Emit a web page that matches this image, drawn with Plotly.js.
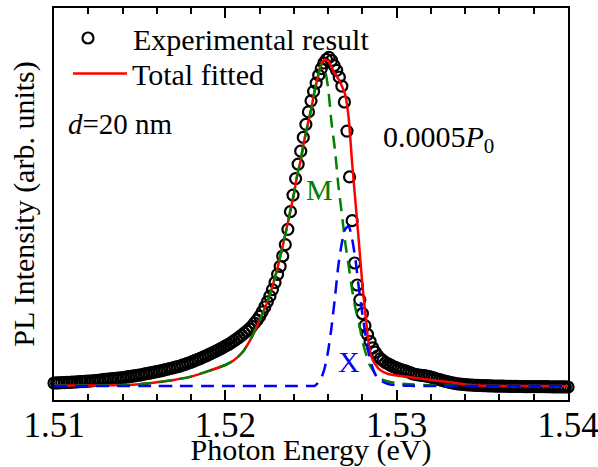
<!DOCTYPE html>
<html><head><meta charset="utf-8">
<script src="https://cdn.plot.ly/plotly-3.0.1.min.js"></script>
<style>html,body{margin:0;padding:0;background:#fff;}#chart{width:598px;height:467px;}</style>
</head><body><div id="chart"></div>
<script>
// Experimental PL spectrum, sampled on a uniform energy grid
const energyStart = 1.51;
const energyStep = 0.00015;
const experimental = [
 0.0091, 0.0095, 0.0098, 0.0101, 0.0104, 0.0108, 0.0113, 0.0116, 0.0122, 0.0125,
 0.0131, 0.0136, 0.0142, 0.0146, 0.0152, 0.0160, 0.0168, 0.0175, 0.0183, 0.0192,
 0.0200, 0.0207, 0.0215, 0.0223, 0.0230, 0.0238, 0.0247, 0.0259, 0.0271, 0.0284,
 0.0294, 0.0306, 0.0317, 0.0329, 0.0343, 0.0360, 0.0375, 0.0390, 0.0405, 0.0421,
 0.0438, 0.0453, 0.0471, 0.0491, 0.0511, 0.0530, 0.0549, 0.0569, 0.0588, 0.0608,
 0.0636, 0.0662, 0.0689, 0.0716, 0.0748, 0.0780, 0.0811, 0.0843, 0.0878, 0.0915,
 0.0948, 0.0985, 0.1024, 0.1064, 0.1102, 0.1143, 0.1186, 0.1229, 0.1271, 0.1320,
 0.1375, 0.1430, 0.1485, 0.1546, 0.1610, 0.1674, 0.1741, 0.1820, 0.1915, 0.2006,
 0.2122, 0.2262, 0.2409, 0.2567, 0.2738, 0.2939, 0.3155, 0.3405, 0.3649, 0.3963,
 0.4311, 0.4777, 0.5314, 0.5820, 0.6323, 0.6765, 0.7159, 0.7579, 0.7976, 0.8357,
 0.8695, 0.8982, 0.9235, 0.9476, 0.9677, 0.9848, 0.9960, 1.0021, 0.9924, 0.9768,
 0.9622, 0.9415, 0.9143, 0.8659, 0.7771, 0.6375, 0.5040, 0.3750, 0.3079, 0.2628,
 0.2210, 0.1841, 0.1570, 0.1357, 0.1165, 0.1030, 0.0915, 0.0835, 0.0774, 0.0713,
 0.0674, 0.0634, 0.0595, 0.0558, 0.0527, 0.0497, 0.0476, 0.0451, 0.0427, 0.0393,
 0.0366, 0.0351, 0.0335, 0.0326, 0.0317, 0.0302, 0.0284, 0.0262, 0.0238, 0.0213,
 0.0192, 0.0171, 0.0149, 0.0131, 0.0113, 0.0095, 0.0079, 0.0067, 0.0058, 0.0049,
 0.0041, 0.0035, 0.0030, 0.0026, 0.0021, 0.0018, 0.0015, 0.0012, 0.0009, 0.0006,
 0.0003, 0.0000, -0.0002, -0.0004, -0.0005, -0.0006, -0.0008, -0.0009, -0.0010, -0.0012,
 -0.0013, -0.0015, -0.0015, -0.0016, -0.0017, -0.0017, -0.0018, -0.0019, -0.0019, -0.0020,
 -0.0021, -0.0021, -0.0022, -0.0023, -0.0024, -0.0025, -0.0026, -0.0027, -0.0028, -0.0029, -0.0030
];

// Fitted curves
const fitEnergy = [
 1.510, 1.511, 1.512, 1.513, 1.514, 1.515, 1.516, 1.517, 1.518, 1.519,
 1.520, 1.5205, 1.521, 1.5215, 1.522, 1.5225, 1.523, 1.5235, 1.524, 1.5242,
 1.5244, 1.5246, 1.5248, 1.525, 1.5252, 1.5254, 1.5256, 1.5258, 1.526, 1.5262,
 1.5264, 1.5266, 1.5268, 1.527, 1.5272, 1.5274, 1.5276, 1.5278, 1.528, 1.5282,
 1.5284, 1.5286, 1.5288, 1.529, 1.5295, 1.530, 1.5305, 1.531, 1.532, 1.533,
 1.534, 1.535, 1.536, 1.538, 1.540
];
const totalFit = [
 0.0009, 0.0012, 0.0015, 0.0018, 0.0027, 0.0055, 0.0113, 0.0186, 0.0287, 0.0454,
 0.0640, 0.0784, 0.1027, 0.1445, 0.1997, 0.2631, 0.3506, 0.4622, 0.5854, 0.6433,
 0.6890, 0.7470, 0.7957, 0.8415, 0.8963, 0.9421, 0.9817, 0.9954, 0.9909, 0.9726,
 0.9512, 0.9360, 0.9146, 0.8872, 0.8171, 0.6799, 0.5579, 0.4360, 0.3079, 0.2073,
 0.1159, 0.0793, 0.0625, 0.0503, 0.0366, 0.0320, 0.0290, 0.0253, 0.0183, 0.0122,
 0.0046, 0.0009, 0.0000, 0.0000, -0.0006
];
const componentM = [
 0.0009, 0.0012, 0.0015, 0.0018, 0.0027, 0.0055, 0.0113, 0.0186, 0.0287, 0.0454,
 0.0640, 0.0784, 0.1027, 0.1445, 0.1997, 0.2631, 0.3506, 0.4622, 0.5854, 0.6433,
 0.6890, 0.7470, 0.7957, 0.8415, 0.8963, 0.9421, 0.9780, 0.9660, 0.9085, 0.8018,
 0.7195, 0.6098, 0.5244, 0.4360, 0.3659, 0.2927, 0.2348, 0.1921, 0.1372, 0.0991,
 0.0671, 0.0488, 0.0320, 0.0229, 0.0137, 0.0085, 0.0061, 0.0043, 0.0021, 0.0012,
 0.0006, 0.0003, 0.0000, 0.0000, 0.0000
];
const componentX = [
 0, 0, 0, 0, 0, 0, 0, 0, 0, 0,
 0, 0, 0, 0, 0, 0, 0, 0, 0, 0,
 0, 0, 0, 0, 0, 0.0091, 0.0244, 0.0549, 0.1067, 0.1799,
 0.2713, 0.3689, 0.4360, 0.4787, 0.4878, 0.4482, 0.3841, 0.2957, 0.2195, 0.1494,
 0.0915, 0.0549, 0.0305, 0.0183, 0.0061, 0.0021, 0.0009, 0, 0, 0,
 0, 0, 0, 0, 0
];

const tickValues = [1.51, 1.52, 1.53, 1.54];
const tickLabels = ['1.51', '1.52', '1.53', '1.54'];

const FONT = '"Liberation Serif", "Times New Roman", Times, serif';

const traces = [
  {type:'scatter', mode:'markers', name:'Experimental result', x0:energyStart, dx:energyStep, y:experimental,
   marker:{symbol:'circle-open', size:11, color:'black', line:{width:2.2, color:'black'}},
   cliponaxis:false, legend:'legend'},
  {type:'scatter', mode:'lines', name:'Total fitted', x:fitEnergy, y:totalFit,
   line:{color:'#ff0000', width:2.5, shape:'spline', smoothing:0.5}, legend:'legend2'},
  {type:'scatter', mode:'lines', name:'M', x:fitEnergy, y:componentM,
   line:{color:'#008000', width:2.5, dash:'13px,8px', shape:'spline', smoothing:0.5}, showlegend:false},
  {type:'scatter', mode:'lines', name:'X', x:fitEnergy, y:componentX,
   line:{color:'#0000ff', width:2.5, dash:'13px,8px', shape:'spline', smoothing:0.5}, showlegend:false}
];

const legendBase = {xanchor:'left', yanchor:'middle', font:{family:FONT, size:30, color:'black'},
  bgcolor:'rgba(0,0,0,0)', borderwidth:0};

const layout = {
  width:598, height:467,
  margin:{l:54, r:30, t:8, b:67, pad:0},
  paper_bgcolor:'white', plot_bgcolor:'white',
  font:{family:FONT, color:'black', size:30},
  showlegend:true,
  xaxis:{range:[1.51, 1.54], tickmode:'array', tickvals:tickValues, ticktext:tickLabels,
    ticks:'inside', ticklen:10, tickwidth:2, tickcolor:'black',
    showline:true, linecolor:'black', linewidth:2, mirror:'ticks',
    showgrid:false, zeroline:false,
    tickfont:{family:FONT, size:35, color:'black'},
    ticklabelstandoff:-7, ticklabeloverflow:'allow',
    minor:{tickmode:'linear', tick0:1.51, dtick:0.002, ticks:'inside', ticklen:6, tickwidth:2, tickcolor:'black', showgrid:false},
    title:{text:'Photon Energy (eV)', font:{family:FONT, size:30, color:'black'}, standoff:0},
    automargin:false},
  yaxis:{range:[-0.04268, 1.15244], showticklabels:false, ticks:'',
    showline:true, linecolor:'black', linewidth:2, mirror:true,
    showgrid:false, zeroline:false,
    title:{text:'PL Intensity (arb. units)', font:{family:FONT, size:30, color:'black'}, standoff:9},
    automargin:false},
  legend:Object.assign({}, legendBase, {x:-0.0214, y:0.9235, itemwidth:80}),
  legend2:Object.assign({}, legendBase, {x:0.0272, y:0.8329, itemwidth:54}),
  annotations:[
    {text:'<i>d</i>=20 nm', x:1.510701, y:0.7988, xref:'x', yref:'y', xanchor:'left', yanchor:'middle',
     showarrow:false, font:{family:FONT, size:29, color:'black'}},
    {text:'0.0005<i>P</i><sub>0</sub>', x:1.529104, y:0.7530, xref:'x', yref:'y', xanchor:'left', yanchor:'middle',
     showarrow:false, font:{family:FONT, size:30, color:'black'}},
    {text:'M', x:1.525482, y:0.5976, xref:'x', yref:'y', xanchor:'center', yanchor:'middle',
     showarrow:false, font:{family:FONT, size:30, color:'#008000'}},
    {text:'X', x:1.527217, y:0.0741, xref:'x', yref:'y', xanchor:'center', yanchor:'middle',
     showarrow:false, font:{family:FONT, size:30, color:'#0000ff'}}
  ]
};

Plotly.newPlot('chart', traces, layout, {displayModeBar:false, staticPlot:true});
</script>
</body></html>
